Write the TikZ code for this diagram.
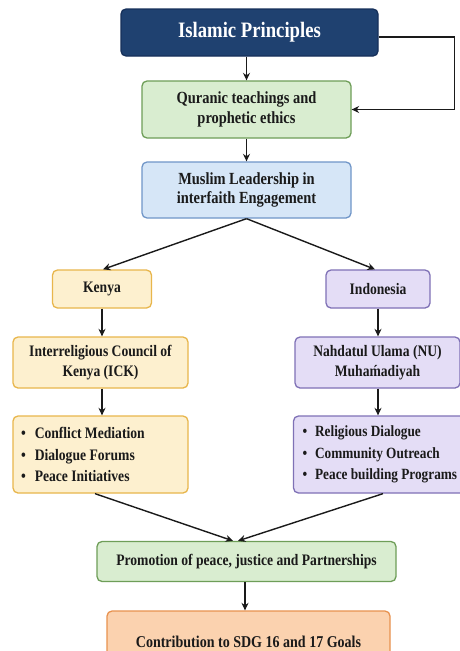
\documentclass[tikz,border=0pt]{standalone}
\usepackage{fontspec}
\setmainfont{Liberation Serif}[FakeStretch=0.85]
\usetikzlibrary{arrows.meta}
\definecolor{navyF}{HTML}{1F4170}
\definecolor{navyD}{HTML}{16305A}
\definecolor{grnF}{HTML}{D9EDD0}
\definecolor{grnD}{HTML}{6E9E58}
\definecolor{bluF}{HTML}{D6E6F7}
\definecolor{bluD}{HTML}{7096C8}
\definecolor{yelF}{HTML}{FDF0CF}
\definecolor{yelD}{HTML}{E8B64C}
\definecolor{purF}{HTML}{E4DDF6}
\definecolor{purD}{HTML}{7F71B6}
\definecolor{orgF}{HTML}{FBD2AF}
\definecolor{orgD}{HTML}{E8924F}
\definecolor{ink}{HTML}{1A1A1A}
\begin{document}
\begin{tikzpicture}[x=1pt,y=-1pt,
  box/.style={draw, rounded corners=5pt, line width=1.3pt, inner sep=0pt, align=center,
    text=ink, font=\bfseries\fontsize{16}{20}\selectfont},
  big/.style={font=\bfseries\fontsize{17}{19.5}\selectfont},
  listbox/.style={box, align=flush left, inner xsep=8pt, font=\bfseries\fontsize{16}{21.5}\selectfont},
  green/.style={fill=grnF, draw=grnD},
  blue/.style={fill=bluF, draw=bluD},
  yellow/.style={fill=yelF, draw=yelD},
  purple/.style={fill=purF, draw=purD},
  orange/.style={fill=orgF, draw=orgD},
  arr/.style={-{Stealth[length=7.5pt,width=7pt]}, line width=1.4pt, draw=ink}]
\clip (0,0) rectangle (460,651);
\useasboundingbox (0,0) rectangle (460,651);
\fill[white] (0,0) rectangle (460,651);

\node[box, fill=navyF, draw=navyD, text=white, font=\bfseries\fontsize{22}{24}\selectfont,
  minimum width=257pt, minimum height=47pt] (isl) at (249.5,32.5) {Islamic Principles};
\node[box, big, green, minimum width=209pt, minimum height=57pt] (qur) at (246.5,109.5)
  {Quranic teachings and\\prophetic ethics};
\node[box, big, blue, minimum width=209pt, minimum height=56pt] (mus) at (246.5,190)
  {Muslim Leadership in\\interfaith Engagement};

\node[box, yellow, minimum width=99pt, minimum height=38pt] (ken) at (102,289) {Kenya};
\node[box, yellow, minimum width=175pt, minimum height=51pt] (ick) at (100.5,362.5)
  {Interreligious Council of\\Kenya (ICK)};
\node[listbox, yellow, text width=159pt, minimum height=77pt] (kbul) at (100.5,454.5)
  {\textbullet\hspace{9pt}Conflict Mediation\\\textbullet\hspace{9pt}Dialogue Forums\\\textbullet\hspace{9pt}Peace Initiatives};

\node[box, purple, minimum width=104pt, minimum height=38pt] (ind) at (378,289) {Indonesia};
\node[box, purple, minimum width=165pt, minimum height=51pt] (nu) at (377.5,362.5)
  {Nahdatul Ulama (NU)\\Muha\'{m}adiyah};
\node[listbox, purple, inner xsep=9pt, text width=160pt, font=\bfseries\fontsize{15.6}{21.5}\selectfont,
  minimum height=77pt] (ibul) at (382.5,454.5)
  {\textbullet\hspace{8pt}Religious Dialogue\\\textbullet\hspace{8pt}Community Outreach\\\textbullet\hspace{8pt}Peace building Programs};

\node[box, green, minimum width=299pt, minimum height=40pt] (pro) at (246.5,561.5)
  {Promotion of peace, justice and Partnerships};
\node[box, orange, font=\bfseries\fontsize{16.5}{20}\selectfont, minimum width=283pt, minimum height=62pt] (con) at (248.5,642)
  {Contribution to SDG 16 and 17 Goals};

% connectors
\draw[arr] (isl.south -| qur.north) -- (qur.north);
\draw[arr] ([yshift=-4.5pt]isl.east) -- ++(76,0) |- (qur.east);
\draw[arr] (qur.south) -- (mus.north);
\draw[arr] (mus.south) -- ([xshift=1pt]ken.north);
\draw[arr] (mus.south) -- ([xshift=-3pt]ind.north);
\draw[arr] (ken.south) -- (ken.south |- ick.north);
\draw[arr] (ken.south |- ick.south) -- (ken.south |- kbul.north);
\draw[arr] (ind.south) -- (ind.south |- nu.north);
\draw[arr] (ind.south |- nu.south) -- (ind.south |- ibul.north);
\draw[arr] ([xshift=-5.5pt]kbul.south) -- ([xshift=-13.5pt]pro.north);
\draw[arr] ([xshift=0.5pt]ibul.south) -- ([xshift=-8.5pt]pro.north);
\draw[arr] (pro.south -| 245,0) -- (con.north -| 245,0);
\end{tikzpicture}
\end{document}
